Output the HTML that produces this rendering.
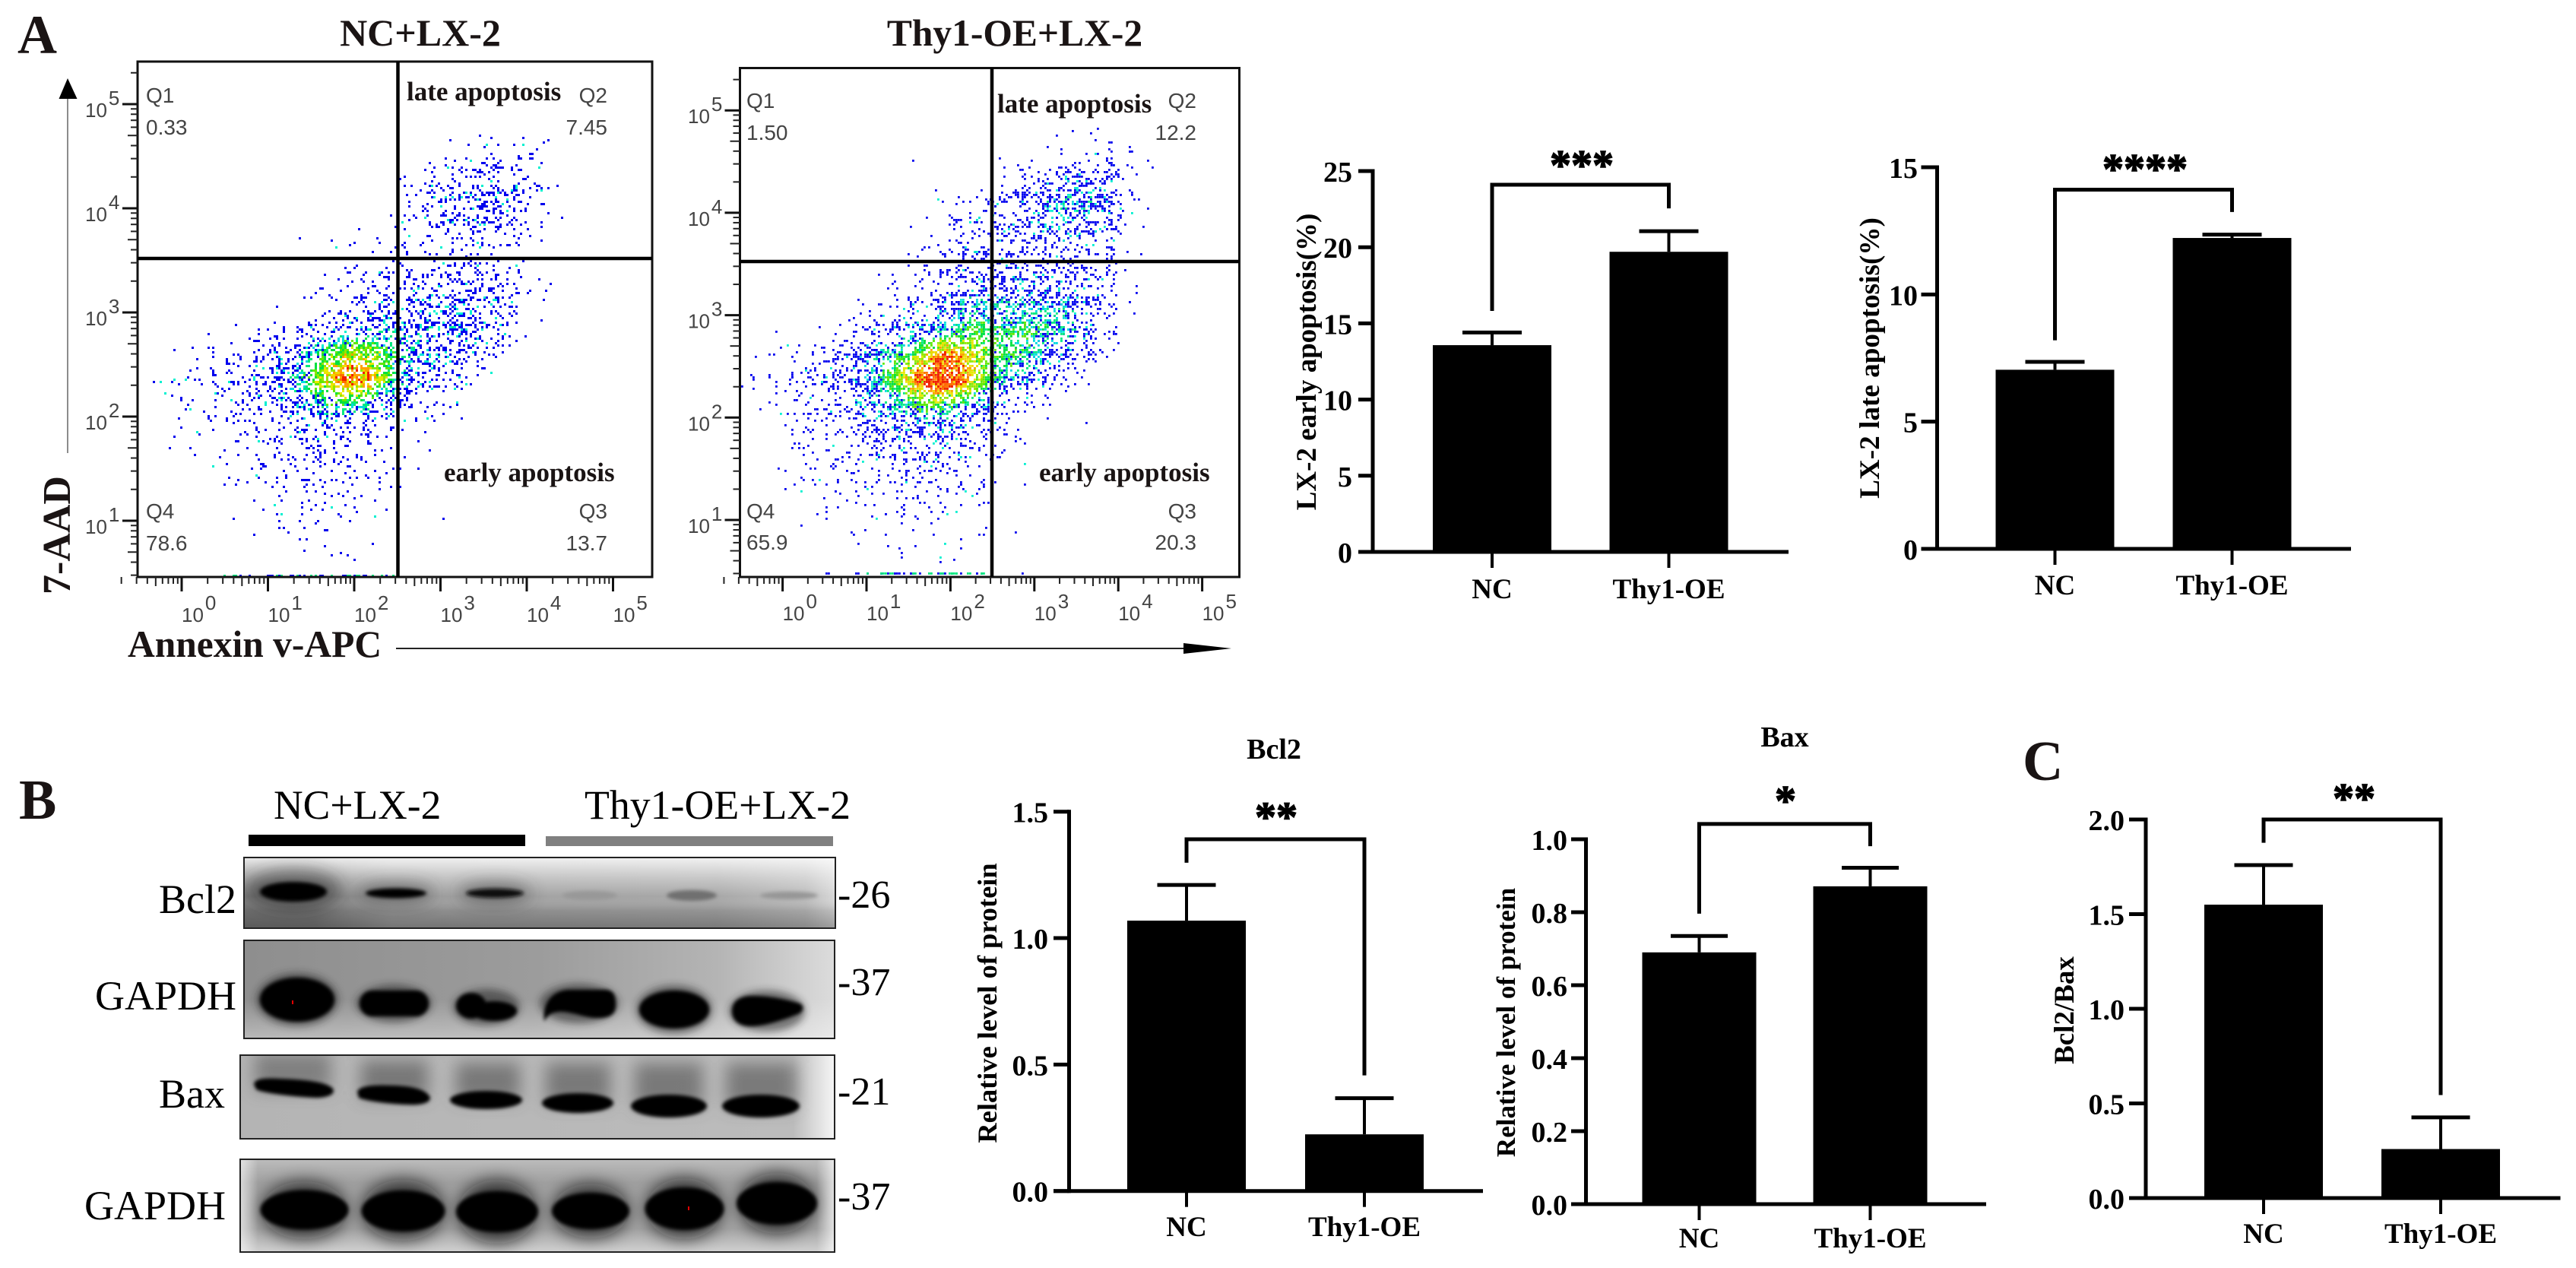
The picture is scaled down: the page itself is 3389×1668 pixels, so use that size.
<!DOCTYPE html>
<html lang="en">
<head>
<meta charset="utf-8">
<title>Thy1-OE LX-2 apoptosis figure</title>
<style>
html,body{margin:0;padding:0;background:#fff;width:3389px;height:1668px;overflow:hidden}
svg{display:block;position:absolute;left:0;top:0}
text{font-family:"Liberation Serif",serif;fill:#000}
.b{font-weight:bold}
.tt{fill:#1a1414;font-weight:bold}
.q{font-family:"Liberation Sans",sans-serif;font-size:28px;fill:#444}
.fl{font-family:"Liberation Sans",sans-serif;font-size:26px;fill:#444}
.lab{font-size:54px}
</style>
</head>
<body>
<svg id="figure" xmlns="http://www.w3.org/2000/svg" width="3389" height="1668" viewBox="0 0 3389 1668">
<defs>
<filter id="b3" x="-5%" y="-30%" width="110%" height="160%"><feGaussianBlur stdDeviation="2.4"/></filter>
<filter id="b5" x="-5%" y="-50%" width="110%" height="200%"><feGaussianBlur stdDeviation="5"/></filter>
<filter id="b12" x="-10%" y="-80%" width="120%" height="260%"><feGaussianBlur stdDeviation="11"/></filter>
<clipPath id="c1"><rect x="321" y="1128" width="778" height="93"/></clipPath>
<clipPath id="c2"><rect x="321" y="1237" width="777" height="129"/></clipPath>
<clipPath id="c3"><rect x="316" y="1388" width="782" height="110"/></clipPath>
<clipPath id="c4"><rect x="316" y="1525" width="782" height="122"/></clipPath>
<linearGradient id="g1" x1="0" x2="1" y1="0" y2="0"><stop offset="0" stop-color="#7c7c7c"/><stop offset=".12" stop-color="#7e7e7e"/><stop offset=".25" stop-color="#a0a0a0"/><stop offset=".55" stop-color="#a4a4a4"/><stop offset=".8" stop-color="#a8a8a8"/><stop offset=".95" stop-color="#bcbcbc"/><stop offset="1" stop-color="#d8d8d8"/></linearGradient>
<linearGradient id="g1v" x1="0" x2="0" y1="0" y2="1"><stop offset="0" stop-color="#fff" stop-opacity=".85"/><stop offset=".3" stop-color="#fff" stop-opacity=".35"/><stop offset=".55" stop-color="#fff" stop-opacity="0"/><stop offset=".75" stop-color="#000" stop-opacity=".12"/><stop offset="1" stop-color="#000" stop-opacity=".28"/></linearGradient>
<linearGradient id="g2" x1="0" x2="1" y1="0" y2="0"><stop offset="0" stop-color="#8e8e8e"/><stop offset=".5" stop-color="#9c9c9c"/><stop offset=".8" stop-color="#b4b4b4"/><stop offset="1" stop-color="#dcdcdc"/></linearGradient>
<linearGradient id="g2v" x1="0" x2="0" y1="0" y2="1"><stop offset="0" stop-color="#fff" stop-opacity="0"/><stop offset=".6" stop-color="#fff" stop-opacity="0"/><stop offset="1" stop-color="#fff" stop-opacity=".38"/></linearGradient>
<linearGradient id="g3" x1="0" x2="1" y1="0" y2="0"><stop offset="0" stop-color="#b4b4b4"/><stop offset=".93" stop-color="#bcbcbc"/><stop offset="1" stop-color="#f6f6f6"/></linearGradient>
<linearGradient id="g4" x1="0" x2="0" y1="0" y2="1"><stop offset="0" stop-color="#bcbcbc"/><stop offset=".25" stop-color="#a0a0a0"/><stop offset=".75" stop-color="#a4a4a4"/><stop offset="1" stop-color="#d0d0d0"/></linearGradient>
<linearGradient id="g4h" x1="0" x2="1" y1="0" y2="0"><stop offset="0" stop-color="#fff" stop-opacity=".6"/><stop offset=".03" stop-color="#fff" stop-opacity="0"/><stop offset=".97" stop-color="#fff" stop-opacity="0"/><stop offset="1" stop-color="#fff" stop-opacity=".7"/></linearGradient>
</defs>
<rect width="3389" height="1668" fill="#fff"/>

<text class="tt" x="23" y="70" font-size="72">A</text>
<text class="tt" x="25" y="1077" font-size="74">B</text>
<text class="tt" x="2661" y="1026" font-size="74">C</text>

<text class="tt" x="553" y="60" font-size="50" text-anchor="middle">NC+LX-2</text>
<text class="tt" x="1335" y="60" font-size="49.5" text-anchor="middle">Thy1-OE+LX-2</text>

<g id="flow1"></g>
<g id="flow2"></g>

<g>
<text class="tt" x="535" y="132" font-size="35">late apoptosis</text>
<text class="tt" x="584" y="633" font-size="35">early apoptosis</text>
<text class="q" x="192" y="135">Q1</text>
<text class="q" x="192" y="177">0.33</text>
<text class="q" x="799" y="135" text-anchor="end">Q2</text>
<text class="q" x="799" y="177" text-anchor="end">7.45</text>
<text class="q" x="799" y="682" text-anchor="end">Q3</text>
<text class="q" x="799" y="724" text-anchor="end">13.7</text>
<text class="q" x="192" y="682">Q4</text>
<text class="q" x="192" y="724">78.6</text>
</g>
<g>
<text class="tt" x="1312" y="148" font-size="35">late apoptosis</text>
<text class="tt" x="1367" y="633" font-size="35">early apoptosis</text>
<text class="q" x="982" y="142">Q1</text>
<text class="q" x="982" y="184">1.50</text>
<text class="q" x="1574" y="142" text-anchor="end">Q2</text>
<text class="q" x="1574" y="184" text-anchor="end">12.2</text>
<text class="q" x="1574" y="682" text-anchor="end">Q3</text>
<text class="q" x="1574" y="723" text-anchor="end">20.3</text>
<text class="q" x="982" y="682">Q4</text>
<text class="q" x="982" y="723">65.9</text>
</g>

<text class="tt" font-size="52" text-anchor="middle" transform="translate(92 704) rotate(-90)">7-AAD</text>
<text class="tt" x="168" y="864" font-size="49.5">Annexin v-APC</text>
<line x1="89" y1="596" x2="89" y2="128" stroke="#8c8c8c" stroke-width="2"/>
<polygon points="89,103 77.5,130 101.5,130" fill="#000"/>
<line x1="521" y1="853" x2="1560" y2="853" stroke="#222" stroke-width="2"/>
<polygon points="1620,853 1557,846 1557,860" fill="#000"/>

<g id="chart-early"></g>
<g id="chart-late"></g>
<g id="chart-bcl2"></g>
<g id="chart-bax"></g>
<g id="chart-ratio"></g>

<!-- Western blots -->
<g>
<text x="360" y="1077" font-size="53.5">NC+LX-2</text>
<text x="769" y="1077" font-size="53.8">Thy1-OE+LX-2</text>
<rect x="327" y="1098" width="364" height="15" fill="#000"/>
<rect x="718" y="1100" width="378" height="13" fill="#808080"/>

<g clip-path="url(#c1)">
<rect x="321" y="1128" width="778" height="93" fill="url(#g1)"/>
<rect x="321" y="1128" width="778" height="93" fill="url(#g1v)"/>
<g filter="url(#b12)" opacity=".5">
<ellipse cx="386" cy="1170" rx="62" ry="26" fill="#222"/>
<ellipse cx="521" cy="1175" rx="50" ry="14" fill="#333"/>
<ellipse cx="651" cy="1175" rx="48" ry="14" fill="#333"/>
</g>
<g filter="url(#b3)">
<ellipse cx="386" cy="1173" rx="44" ry="13" fill="#000"/>
<ellipse cx="521" cy="1175" rx="40" ry="6.5" fill="#000"/>
<ellipse cx="651" cy="1175" rx="38" ry="6" fill="#111"/>
<ellipse cx="776" cy="1178" rx="36" ry="6" fill="#989898"/>
<ellipse cx="910" cy="1178" rx="33" ry="7" fill="#707070"/>
<ellipse cx="1038" cy="1178" rx="38" ry="5" fill="#969696"/>
</g>
</g>
<rect x="321" y="1128" width="778" height="93" fill="none" stroke="#222" stroke-width="2"/>

<g clip-path="url(#c2)">
<rect x="321" y="1237" width="777" height="129" fill="url(#g2)"/>
<rect x="321" y="1237" width="777" height="129" fill="url(#g2v)"/>
<g filter="url(#b5)" opacity=".55">
<ellipse cx="391" cy="1315" rx="54" ry="35" fill="#222"/>
<ellipse cx="518" cy="1320" rx="50" ry="25" fill="#222"/>
<ellipse cx="640" cy="1325" rx="44" ry="24" fill="#222"/>
<ellipse cx="762" cy="1320" rx="52" ry="26" fill="#222"/>
<ellipse cx="887" cy="1328" rx="50" ry="32" fill="#222"/>
<ellipse cx="1009" cy="1330" rx="50" ry="27" fill="#222"/>
</g>
<g filter="url(#b3)">
<ellipse cx="391" cy="1315" rx="49" ry="29" fill="#000"/>
<rect x="473" y="1303" width="91" height="34" rx="17" fill="#000"/>
<ellipse cx="620" cy="1323" rx="20" ry="17" fill="#000"/>
<ellipse cx="650" cy="1330" rx="30" ry="13" fill="#000"/>
<path d="M716 1344 C713 1318 728 1302 750 1302 L795 1302 C808 1302 810 1310 810 1322 C810 1336 800 1339 785 1339 C770 1339 750 1330 735 1331 C724 1332 720 1336 716 1344 Z" fill="#000"/>
<ellipse cx="887" cy="1328" rx="46" ry="25" fill="#000"/>
<path d="M963 1330 C963 1316 975 1310 990 1310 C1015 1310 1040 1316 1052 1320 C1058 1323 1058 1330 1050 1334 C1030 1342 1005 1350 988 1350 C972 1350 963 1342 963 1330 Z" fill="#000"/>
</g>
</g>
<rect x="321" y="1237" width="777" height="129" fill="none" stroke="#222" stroke-width="2"/>

<g clip-path="url(#c3)">
<rect x="316" y="1388" width="782" height="110" fill="url(#g3)"/>
<g filter="url(#b12)" opacity=".55">
<rect x="335" y="1385" width="100" height="50" fill="#555"/>
<rect x="475" y="1395" width="88" height="50" fill="#444"/>
<rect x="600" y="1398" width="84" height="50" fill="#444"/>
<rect x="718" y="1398" width="85" height="55" fill="#444"/>
<rect x="835" y="1398" width="90" height="60" fill="#444"/>
<rect x="955" y="1398" width="92" height="60" fill="#444"/>
</g>
<g filter="url(#b3)">
<path d="M334 1426 C336 1418 350 1418 370 1419 C400 1420 430 1423 438 1432 C442 1440 430 1444 415 1444 C390 1443 345 1438 337 1433 Z" fill="#000"/>
<path d="M470 1436 C474 1427 495 1427 520 1428 C545 1429 562 1434 566 1444 C566 1452 550 1454 535 1453 C510 1452 480 1448 472 1444 Z" fill="#000"/>
<ellipse cx="639.5" cy="1447" rx="47.5" ry="12" fill="#000"/>
<ellipse cx="760" cy="1451" rx="47" ry="13" fill="#000"/>
<ellipse cx="880" cy="1455" rx="50" ry="15" fill="#000"/>
<ellipse cx="1001" cy="1455" rx="51" ry="15" fill="#000"/>
</g>
</g>
<rect x="316" y="1388" width="782" height="110" fill="none" stroke="#222" stroke-width="2"/>

<g clip-path="url(#c4)">
<rect x="316" y="1525" width="782" height="122" fill="url(#g4)"/>
<rect x="316" y="1525" width="782" height="122" fill="url(#g4h)"/>
<g filter="url(#b12)" opacity=".72">
<ellipse cx="400" cy="1592" rx="56" ry="38" fill="#111"/>
<ellipse cx="530" cy="1592" rx="54" ry="40" fill="#111"/>
<ellipse cx="654" cy="1594" rx="52" ry="42" fill="#111"/>
<ellipse cx="777" cy="1593" rx="50" ry="36" fill="#111"/>
<ellipse cx="900" cy="1590" rx="50" ry="40" fill="#111"/>
<ellipse cx="1022" cy="1583" rx="50" ry="40" fill="#111"/>
</g>
<g filter="url(#b3)">
<ellipse cx="400.5" cy="1591.5" rx="58" ry="26" fill="#000"/>
<ellipse cx="530.5" cy="1593" rx="55" ry="27" fill="#000"/>
<ellipse cx="654" cy="1594" rx="54" ry="27" fill="#000"/>
<ellipse cx="777" cy="1593" rx="51" ry="24" fill="#000"/>
<ellipse cx="900.5" cy="1590" rx="52" ry="28" fill="#000"/>
<ellipse cx="1022" cy="1583" rx="53" ry="28" fill="#000"/>
</g>
</g>
<rect x="316" y="1525" width="782" height="122" fill="none" stroke="#222" stroke-width="2"/>
<rect x="384" y="1316" width="2" height="5" fill="#e00000"/>
<rect x="905" y="1587" width="2" height="5" fill="#e00000"/>

<text class="lab" x="209" y="1201">Bcl2</text>
<text class="lab" x="125" y="1328">GAPDH</text>
<text class="lab" x="209" y="1457">Bax</text>
<text class="lab" x="111" y="1604">GAPDH</text>
<text font-size="52" x="1102" y="1194">-26</text>
<text font-size="52" x="1102" y="1309">-37</text>
<text font-size="52" x="1102" y="1453">-21</text>
<text font-size="52" x="1102" y="1591">-37</text>
</g>
</svg>

<script>
// ---------- bar chart data ----------
const barCategories = ['NC', 'Thy1-OE'];

const earlyValues = [13.57, 19.7];
const earlyErrorTops = [14.4, 21.05];
const earlyTicks = [0, 5, 10, 15, 20, 25];
const earlyTickLabels = ['0', '5', '10', '15', '20', '25'];

const lateValues = [7.04, 12.22];
const lateErrorTops = [7.35, 12.35];
const lateTicks = [0, 5, 10, 15];
const lateTickLabels = ['0', '5', '10', '15'];

const bcl2Values = [1.069, 0.224];
const bcl2ErrorTops = [1.21, 0.367];
const bcl2Ticks = [0, 0.5, 1, 1.5];
const bcl2TickLabels = ['0.0', '0.5', '1.0', '1.5'];

const baxValues = [0.69, 0.871];
const baxErrorTops = [0.735, 0.922];
const baxTicks = [0, 0.2, 0.4, 0.6, 0.8, 1];
const baxTickLabels = ['0.0', '0.2', '0.4', '0.6', '0.8', '1.0'];

const ratioValues = [1.55, 0.259];
const ratioErrorTops = [1.759, 0.426];
const ratioTicks = [0, 0.5, 1, 1.5, 2];
const ratioTickLabels = ['0.0', '0.5', '1.0', '1.5', '2.0'];

// ---------- flow cytometry data: events per 0.25-decade cell, estimated by eye ----------
// rows run from log10(7-AAD) 4.75 down to 0.5; columns from log10(Annexin) -0.5 up to 4.25
const flowCountsNC = [
[0,0,0,0,0,0,0,0,0,0,0,0,0,0,0,0,0,0,0,0],
[0,0,0,0,0,0,0,0,0,0,0,0,0,0,1,3,4,3,3,0],
[0,0,0,0,0,0,0,0,0,0,0,0,2,6,8,14,20,14,6,0],
[0,0,0,0,0,0,0,0,0,0,0,0,6,12,22,30,36,25,8,1],
[0,0,0,0,0,0,0,0,0,0,1,2,8,12,22,24,22,14,3,1],
[0,0,0,0,0,0,0,1,1,2,3,4,6,8,10,12,8,5,1,0],
[0,0,0,0,0,0,0,0,2,4,8,12,14,16,18,18,14,6,3,0],
[0,0,0,0,0,0,1,2,4,8,16,20,22,28,30,30,24,10,3,0],
[0,0,0,1,1,3,6,10,14,22,34,40,40,40,40,36,18,5,1,0],
[0,1,2,4,8,14,24,40,65,90,90,70,48,40,30,22,8,1,0,0],
[1,3,7,10,16,25,40,60,100,130,120,75,36,22,12,4,1,0,0,0],
[1,3,4,6,10,14,22,35,55,65,50,30,10,8,4,0,0,0,0,0],
[0,2,2,3,5,8,12,16,20,20,16,8,3,3,1,0,0,0,0,0],
[0,1,2,2,4,6,9,12,14,10,6,4,1,1,0,0,0,0,0,0],
[0,0,0,1,3,5,6,8,8,6,5,3,1,1,0,0,0,0,0,0],
[0,0,0,0,1,2,4,4,5,5,3,2,0,0,1,0,0,0,0,0],
[0,0,0,0,0,1,3,4,2,2,1,0,0,0,0,0,0,0,0,0],
[0,0,0,0,0,0,0,0,1,2,1,1,0,0,0,0,0,0,0,0]
];
const flowEdgeNC = [0,0,0,1,3,3,5,6,8,8,8,6,0,0,0,0,0,0,0,0];

const flowCountsThy1 = [
[0,0,0,0,0,0,0,0,0,0,0,0,0,0,0,1,1,1,0,0],
[0,0,0,0,0,0,0,0,0,0,0,0,0,0,1,2,3,4,3,1],
[0,0,0,0,0,0,0,0,1,0,0,0,2,8,14,22,26,24,4,1],
[0,0,0,0,0,0,0,0,0,2,3,6,14,28,40,48,48,34,6,1],
[0,0,0,0,0,0,0,0,1,4,12,14,20,22,30,30,30,20,3,0],
[0,0,0,0,0,0,0,1,3,5,14,16,16,14,14,16,12,10,2,0],
[0,0,0,0,0,0,1,3,6,10,18,25,30,24,24,20,18,12,2,0],
[0,0,0,0,0,2,4,8,14,26,46,52,46,46,46,42,30,12,2,0],
[0,1,0,1,2,6,14,24,34,44,62,66,64,66,60,50,24,8,0,0],
[1,2,4,8,14,30,50,60,85,125,110,85,70,62,44,30,14,2,0,0],
[4,3,8,12,22,36,60,90,130,155,125,85,50,32,16,5,1,0,0,0],
[1,3,6,9,15,24,34,50,70,70,50,35,14,6,2,0,1,0,0,0],
[0,0,5,7,8,13,20,25,30,28,22,12,5,2,0,0,0,0,0,0],
[0,1,3,6,8,10,12,16,18,16,12,8,3,1,0,0,0,0,0,0],
[0,0,2,4,5,7,7,8,8,8,7,5,1,1,0,0,0,0,0,0],
[0,0,0,3,2,2,4,5,5,4,3,2,0,0,0,0,0,0,0,0],
[0,0,0,0,0,2,2,4,2,2,1,2,0,1,0,0,0,0,0,0],
[0,0,0,0,0,0,0,1,0,2,1,0,0,0,0,0,0,0,0,0]
];
const flowEdgeThy1 = [0,0,0,0,2,3,6,8,8,8,8,6,0,1,0,0,0,0,0,0];

const flowXDecades = [0, 1, 2, 3, 4, 5];
const flowYDecades = [1, 2, 3, 4, 5];
const flowMinorMultipliers = [2, 3, 4, 5, 6, 7, 8, 9];

// ---------- helpers ----------
const NS = 'http://www.w3.org/2000/svg';
function make(tag, parent) {
  const e = document.createElementNS(NS, tag);
  parent.appendChild(e);
  return e;
}
function setLine(e, x1, y1, x2, y2, w, color) {
  e.setAttribute('x1', x1);
  e.setAttribute('y1', y1);
  e.setAttribute('x2', x2);
  e.setAttribute('y2', y2);
  e.setAttribute('stroke', color);
  e.setAttribute('stroke-width', w);
}
function setBox(e, x, y, w, h, color) {
  e.setAttribute('x', x);
  e.setAttribute('y', y);
  e.setAttribute('width', w);
  e.setAttribute('height', h);
  e.setAttribute('fill', color);
}

// ---------- bar charts ----------
function drawBarChart(id, values, errorTops, ticks, tickLabels, L) {
  const root = document.getElementById(id);
  const yScale = v => L.yZero - (v / L.max) * (L.yZero - L.yTop);
  const xScale = i => L.x0 + i * L.step;

  values.forEach(function (v, i) {
    const bar = make('rect', root);
    
    
    setBox(bar, xScale(i) - L.barW / 2, yScale(v), L.barW, L.yZero - yScale(v), '#000');

    const stem = make('line', root);
    
    
    setLine(stem, xScale(i), yScale(v), xScale(i), yScale(errorTops[i]), 4, '#000');

    const cap = make('line', root);
    
    
    setLine(cap, xScale(i) - L.capW / 2, yScale(errorTops[i]), xScale(i) + L.capW / 2, yScale(errorTops[i]), 5, '#000');

    const tick = make('line', root);
    
    
    setLine(tick, xScale(i), L.yZero, xScale(i), L.yZero + 21, 4, '#000');

    const lab = make('text', root);
    
    
    lab.setAttribute('x', xScale(i));
    lab.setAttribute('y', L.labelBase);
    lab.setAttribute('text-anchor', 'middle');
    lab.setAttribute('font-size', 37);
    lab.setAttribute('class', 'b');
    lab.textContent = barCategories[i];
  });

  const yAxis = make('line', root);
  
  
  setLine(yAxis, L.axisX, yScale(L.max) - 2.5, L.axisX, L.yZero + 2.5, 5, '#000');

  const xAxis = make('line', root);
  
  
  setLine(xAxis, L.left, L.yZero, L.right, L.yZero, 5, '#000');

  ticks.forEach(function (t, i) {
    const tk = make('line', root);
    
    
    setLine(tk, L.left, yScale(t), L.axisX, yScale(t), 5, '#000');

    const lab = make('text', root);
    
    
    lab.setAttribute('x', L.tickRight);
    lab.setAttribute('y', yScale(t) + 14);
    lab.setAttribute('text-anchor', 'end');
    lab.setAttribute('font-size', 38);
    lab.setAttribute('class', 'b');
    lab.textContent = tickLabels[i];
  });

  const bracket = make('polyline', root);
  
  
  bracket.setAttribute('points',
    xScale(0) + ',' + yScale(L.bracketLeft) + ' ' +
    xScale(0) + ',' + yScale(L.bracketTop) + ' ' +
    xScale(1) + ',' + yScale(L.bracketTop) + ' ' +
    xScale(1) + ',' + yScale(L.bracketRight));
  bracket.setAttribute('fill', 'none');
  bracket.setAttribute('stroke', '#000');
  bracket.setAttribute('stroke-width', 5);

  const stars = make('text', root);
  
  
  stars.setAttribute('x', L.starX);
  stars.setAttribute('y', L.starBase);
  stars.setAttribute('text-anchor', 'middle');
  stars.setAttribute('font-size', 56);
  stars.setAttribute('class', 'b');
  stars.setAttribute('stroke', '#000');
  stars.setAttribute('stroke-width', 1.4);
  stars.textContent = L.stars;

  const yTitle = make('text', root);
  
  
  yTitle.setAttribute('transform', 'translate(' + L.titleX + ' ' + L.titleY + ') rotate(-90)');
  yTitle.setAttribute('text-anchor', 'middle');
  yTitle.setAttribute('font-size', L.titleSize);
  yTitle.setAttribute('class', 'b');
  yTitle.textContent = L.title;

  if (L.heading) {
    const head = make('text', root);
    
    
    head.setAttribute('x', L.headingX);
    head.setAttribute('y', L.headingY);
    head.setAttribute('text-anchor', 'middle');
    head.setAttribute('font-size', 38);
    head.setAttribute('class', 'b');
    head.textContent = L.heading;
  }
}

drawBarChart('chart-early', earlyValues, earlyErrorTops, earlyTicks, earlyTickLabels, {
  yZero: 726, yTop: 225, max: 25, axisX: 1806, left: 1787, right: 2353, x0: 1963, step: 232.5,
  barW: 156, capW: 78, labelBase: 787, tickRight: 1779,
  bracketTop: 24.1, bracketLeft: 15.82, bracketRight: 22.55,
  stars: '***', starX: 2081, starBase: 236,
  title: 'LX-2 early apoptosis(%)', titleX: 1731, titleY: 476, titleSize: 37
});
drawBarChart('chart-late', lateValues, lateErrorTops, lateTicks, lateTickLabels, {
  yZero: 722, yTop: 220, max: 15, axisX: 2548.5, left: 2527.5, right: 3093, x0: 2703.5, step: 233,
  barW: 156, capW: 78, labelBase: 782, tickRight: 2523,
  bracketTop: 14.12, bracketLeft: 8.2, bracketRight: 13.24,
  stars: '****', starX: 2822, starBase: 241,
  title: 'LX-2 late apoptosis(%)', titleX: 2472, titleY: 471, titleSize: 37.2
});
drawBarChart('chart-bcl2', bcl2Values, bcl2ErrorTops, bcl2Ticks, bcl2TickLabels, {
  yZero: 1566.7, yTop: 1067.7, max: 1.5, axisX: 1406.5, left: 1386, right: 1951, x0: 1561, step: 234,
  barW: 156, capW: 77, labelBase: 1626, tickRight: 1379,
  bracketTop: 1.391, bracketLeft: 1.298, bracketRight: 0.457,
  stars: '**', starX: 1679, starBase: 1093.5,
  title: 'Relative level of protein', titleX: 1311, titleY: 1319.5, titleSize: 36.4,
  heading: 'Bcl2', headingX: 1676, headingY: 998
});
drawBarChart('chart-bax', baxValues, baxErrorTops, baxTicks, baxTickLabels, {
  yZero: 1584, yTop: 1104, max: 1, axisX: 2086.5, left: 2067, right: 2613, x0: 2235.5, step: 225,
  barW: 150, capW: 75, labelBase: 1641, tickRight: 2062,
  bracketTop: 1.042, bracketLeft: 0.796, bracketRight: 0.981,
  stars: '*', starX: 2349, starBase: 1072,
  title: 'Relative level of protein', titleX: 1993, titleY: 1345, titleSize: 35,
  heading: 'Bax', headingX: 2348, headingY: 982
});
drawBarChart('chart-ratio', ratioValues, ratioErrorTops, ratioTicks, ratioTickLabels, {
  yZero: 1576, yTop: 1078, max: 2, axisX: 2823, left: 2801, right: 3368.5, x0: 2978, step: 233,
  barW: 156, capW: 77, labelBase: 1635, tickRight: 2795,
  bracketTop: 2.0, bracketLeft: 1.877, bracketRight: 0.544,
  stars: '**', starX: 3097, starBase: 1069,
  title: 'Bcl2/Bax', titleX: 2728, titleY: 1329, titleSize: 37
});

// ---------- flow plots ----------
function eventColor(e, t) {
  if (e < 22) return t > 0.94 ? '#00f0d0' : '#0000ee';
  if (e < 45) return t > 0.78 ? '#00f0d0' : '#0000ee';
  if (e < 66) return t > 0.6 ? '#00e880' : (t > 0.3 ? '#00d8e0' : '#0000ee');
  if (e < 88) return t > 0.5 ? '#60e800' : '#00e040';
  if (e < 108) return t > 0.5 ? '#e8e800' : '#90e800';
  if (e < 126) return t > 0.5 ? '#ffa000' : '#f0d800';
  return t > 0.4 ? '#f02000' : '#ff7000';
}
function cellHash(a, b, c, seed) {
  const s = Math.sin(a * 12.9898 + b * 78.233 + c * 37.719 + seed) * 43758.5453;
  return s - Math.floor(s);
}
function densityAt(counts, col, row) {
  const c0 = Math.floor(col - 0.5);
  const r0 = Math.floor(row - 0.5);
  const fx = col - 0.5 - c0;
  const fy = row - 0.5 - r0;
  const get = (r, c) => (counts[r] && counts[r][c]) || 0;
  return (get(r0, c0) * (1 - fx) + get(r0, c0 + 1) * fx) * (1 - fy) +
         (get(r0 + 1, c0) * (1 - fx) + get(r0 + 1, c0 + 1) * fx) * fy;
}
function drawFlowPlot(id, counts, edge, L) {
  const root = document.getElementById(id);
  const xScale = v => L.x0 + v * L.xDecade;
  const yScale = v => L.y1 - (v - 1) * L.yDecade;
  const events = [];

  counts.forEach(function (row, r) {
    row.forEach(function (n, c) {
      const total = Math.round(n * L.eventsPerCount);
      for (let i = 0; i < total; i++) {
        const du = (cellHash(r, c, i, L.seed + 1) + cellHash(r, c, i, L.seed + 2) - 1) * 0.72;
        const dw = (cellHash(r, c, i, L.seed + 3) + cellHash(r, c, i, L.seed + 4) - 1) * 0.72;
        const t = cellHash(r, c, i, L.seed + 5);
        const col = c + 0.5 + du;
        const rowPos = r + 0.5 + dw;
        const d = densityAt(counts, col, rowPos);
        events.push({
          logX: -0.5 + col * 0.25,
          logY: 5 - rowPos * 0.25,
          heat: d * (0.82 + 0.36 * t),
          t: cellHash(r, c, i, L.seed + 6)
        });
      }
    });
  });
  edge.forEach(function (n, c) {
    for (let i = 0; i < n; i++) {
      const t = cellHash(99, c, i, L.seed + 5);
      events.push({
        logX: -0.5 + (c + cellHash(99, c, i, L.seed + 1)) * 0.25,
        logY: L.edgeLog,
        heat: t > 0.6 ? 50 : 10,
        t: t
      });
    }
  });
  events.sort((a, b) => a.heat - b.heat);

  const dots = make('g', root);
  
  
  events.forEach(function (ev) {
    const px = Math.round(xScale(ev.logX) / L.grid) * L.grid;
    const py = Math.round(yScale(ev.logY) / L.grid) * L.grid;
    if (px < L.left + 1 || px > L.right - 3 || py < L.top || py > L.bottom - 2) return;
    const dot = make('rect', dots);
    
    
    setBox(dot, px, py, L.dotSize, L.dotSize, eventColor(ev.heat, ev.t));
  });

  const frame = make('rect', root);
  
  
  setBox(frame, L.left, L.top, L.right - L.left, L.bottom - L.top, 'none');
  frame.setAttribute('stroke', '#111');
  frame.setAttribute('stroke-width', 3);

  const gateV = make('line', root);
  
  
  setLine(gateV, L.gateX, L.top, L.gateX, L.bottom, 4.5, '#000');

  const gateH = make('line', root);
  
  
  setLine(gateH, L.left, L.gateY, L.right, L.gateY, 4.5, '#000');

  flowXDecades.forEach(function (d) {
    const major = make('line', root);
    
    
    setLine(major, xScale(d), L.bottom, xScale(d), L.bottom + 19, 3, '#111');

    const lab = make('text', root);
    
    
    lab.setAttribute('class', 'fl');
    lab.setAttribute('x', xScale(d));
    lab.setAttribute('y', L.xLabelBase);
    lab.textContent = '10';
    const ex = make('tspan', lab);
    
    
    ex.setAttribute('dx', 2);
    ex.setAttribute('dy', -16);
    ex.textContent = String(d);

    flowMinorMultipliers.forEach(function (m) {
      const v = d - 1 + Math.log10(m);
      const minor = make('line', root);
      
      
      setLine(minor, xScale(v), L.bottom, xScale(v), L.bottom + (m === 5 ? 12 : 9), 2, '#222');
    });
  });

  flowYDecades.forEach(function (d) {
    const major = make('line', root);
    
    
    setLine(major, L.left - 20, yScale(d), L.left, yScale(d), 3, '#111');

    const lab = make('text', root);
    
    
    lab.setAttribute('class', 'fl');
    lab.setAttribute('x', L.yLabelX);
    lab.setAttribute('y', yScale(d) + 17);
    lab.textContent = '10';
    const ex = make('tspan', lab);
    
    
    ex.setAttribute('dx', 2);
    ex.setAttribute('dy', -16);
    ex.textContent = String(d);

    flowMinorMultipliers.forEach(function (m) {
      const v = d - 1 + Math.log10(m);
      if (yScale(v) > L.bottom) return;
      const minor = make('line', root);
      
      
      setLine(minor, L.left - (m === 5 ? 13 : 9), yScale(v), L.left, yScale(v), 2, '#222');
    });
    flowMinorMultipliers.forEach(function (m) {
      if (d !== 5) return;
      const v = d + Math.log10(m);
      if (yScale(v) < L.top) return;
      const minor = make('line', root);
      
      
      setLine(minor, L.left - (m === 5 ? 13 : 9), yScale(v), L.left, yScale(v), 2, '#222');
    });
  });
}

drawFlowPlot('flow1', flowCountsNC, flowEdgeNC, {
  left: 181, right: 858, top: 81, bottom: 759,
  x0: 239, xDecade: 113.5, y1: 685, yDecade: 137,
  gateX: 523.5, gateY: 340, xLabelBase: 818, yLabelX: 112, edgeLog: 0.49,
  seed: 1.7, grid: 3, dotSize: 3, eventsPerCount: 1.15
});
drawFlowPlot('flow2', flowCountsThy1, flowEdgeThy1, {
  left: 973.5, right: 1630.5, top: 89.5, bottom: 759,
  x0: 1029.6, xDecade: 110.4, y1: 684, yDecade: 134.7,
  gateX: 1305, gateY: 344, xLabelBase: 816, yLabelX: 905, edgeLog: 0.49,
  seed: 5.3, grid: 3, dotSize: 2.8, eventsPerCount: 1.3
});
</script>
</body>
</html>
